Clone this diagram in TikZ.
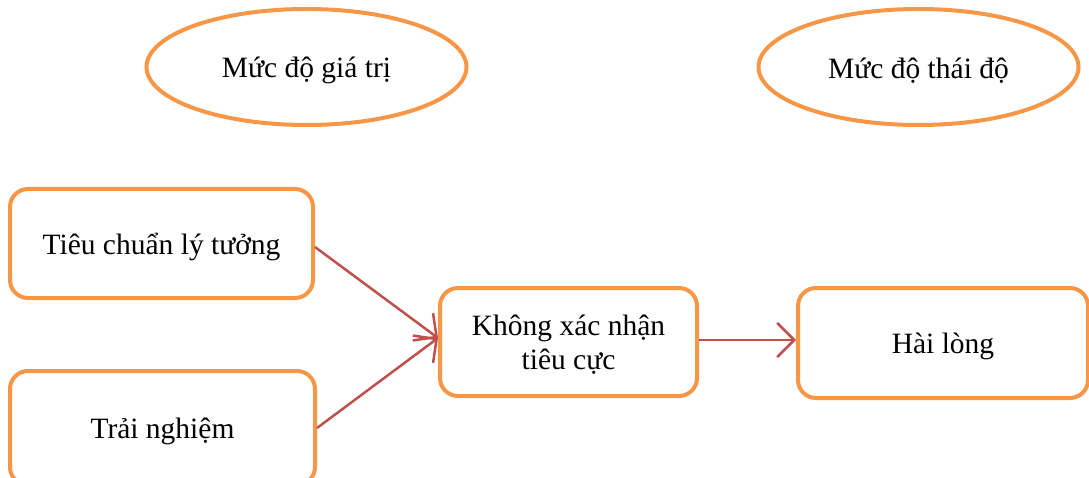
\documentclass[tikz,border=0pt]{standalone}
\usepackage{fontspec}
\setmainfont{Liberation Serif}
\usetikzlibrary{shapes.geometric,arrows.meta}
\definecolor{boxorange}{HTML}{F79646}
\definecolor{linkred}{HTML}{C0504D}
% set text a little below the optical centre of its frame, keeping the frame size
\newsavebox\lowbox
\newcommand{\lowered}[1]{\sbox\lowbox{#1}\raisebox{-3.5pt}[\ht\lowbox][\dp\lowbox]{\usebox\lowbox}}
\begin{document}
\begin{tikzpicture}[x=1pt,y=-1pt,
  every node/.style={font=\fontsize{29.5}{35}\selectfont, text=black},
  level/.style={ellipse, draw=boxorange, line width=4pt, minimum width=320pt, minimum height=116pt, inner sep=0pt},
  stepbox/.style={rectangle, rounded corners=18pt, draw=boxorange, line width=4pt, inner sep=0pt, align=center},
  link/.style={draw=linkred, line width=2.5pt, -{Straight Barb[length=17pt,width=34pt,line width=2.5pt]}}]
\useasboundingbox (0,0) rectangle (1089,478);
% level headers
\node[level] (value) at (306.5,67) {\lowered{Mức độ giá trị}};
\node[level] (attitude) at (918.5,67) {\lowered{Mức độ thái độ}};
% boxes
\node[stepbox, minimum width=303pt, minimum height=109pt] (ideal) at (161.5,243.5) {\lowered{Tiêu chuẩn lý tưởng}};
\node[stepbox, minimum width=305pt, minimum height=114pt] (exper) at (162.5,428) {\lowered{Trải nghiệm}};
\node[stepbox, minimum width=257pt, minimum height=108pt] (neg) at (568.5,342) {\lowered{\begin{tabular}{@{}c@{}}Không xác nhận\\[-0.5pt]tiêu cực\end{tabular}}};
\node[stepbox, minimum width=290pt, minimum height=110pt] (sat) at (943,343) {\lowered{Hài lòng}};
% connectors
\coordinate (negin) at ([yshift=4pt]neg.west);
\draw[link] ([yshift=-3.5pt]ideal.east) -- (negin);
\draw[link] (exper.east) -- (negin);
\draw[link] ([yshift=2pt]neg.east) -- ([yshift=3pt]sat.west);
\end{tikzpicture}
\end{document}
